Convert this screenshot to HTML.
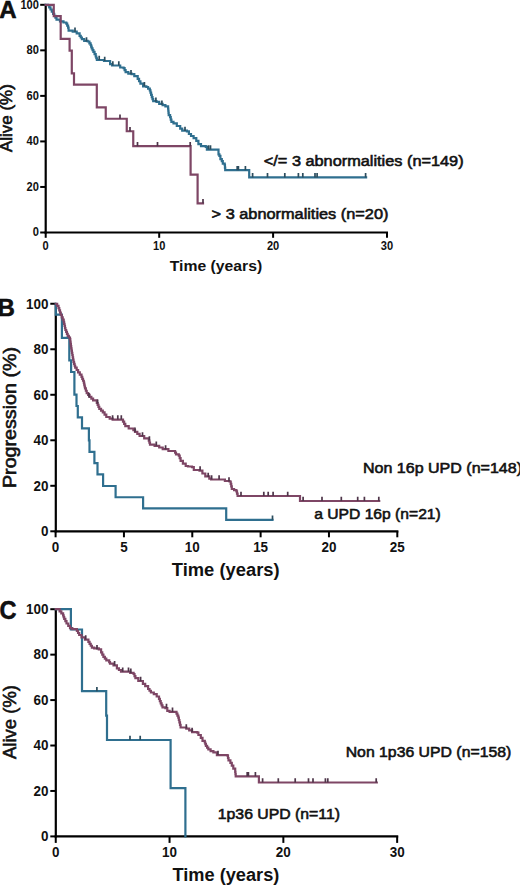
<!DOCTYPE html>
<html><head><meta charset="utf-8"><title>Kaplan-Meier curves</title>
<style>
html,body{margin:0;padding:0;background:#fff;}
body{width:520px;height:886px;overflow:hidden;font-family:"Liberation Sans",sans-serif;}
svg{display:block;}
</style></head><body>
<svg width="520" height="886" viewBox="0 0 520 886">
<g font-family="Liberation Sans, sans-serif" font-weight="bold" fill="#111">
<text x="-0.80" y="18.00" font-size="24.00" text-anchor="start" stroke="#000" stroke-width="0.5">A</text>
<path d="M45.70 233.60 V4.80" stroke="#000" stroke-width="2.2"/>
<path d="M44.60 232.50 H388.00" stroke="#000" stroke-width="2.2"/>
<path d="M40.20 232.50 H45.70" stroke="#000" stroke-width="2"/>
<path d="M40.20 186.96 H45.70" stroke="#000" stroke-width="2"/>
<path d="M40.20 141.42 H45.70" stroke="#000" stroke-width="2"/>
<path d="M40.20 95.88 H45.70" stroke="#000" stroke-width="2"/>
<path d="M40.20 50.34 H45.70" stroke="#000" stroke-width="2"/>
<path d="M40.20 4.80 H45.70" stroke="#000" stroke-width="2"/>
<path d="M45.70 232.50 V237.80" stroke="#000" stroke-width="2"/>
<path d="M159.20 232.50 V237.80" stroke="#000" stroke-width="2"/>
<path d="M273.10 232.50 V237.80" stroke="#000" stroke-width="2"/>
<path d="M387.00 232.50 V237.80" stroke="#000" stroke-width="2"/>
<text x="38.90" y="236.47" font-size="12.20" text-anchor="end" textLength="6.17" lengthAdjust="spacingAndGlyphs">0</text>
<text x="38.90" y="190.93" font-size="12.20" text-anchor="end" textLength="12.34" lengthAdjust="spacingAndGlyphs">20</text>
<text x="38.90" y="145.39" font-size="12.20" text-anchor="end" textLength="12.34" lengthAdjust="spacingAndGlyphs">40</text>
<text x="38.90" y="99.85" font-size="12.20" text-anchor="end" textLength="12.34" lengthAdjust="spacingAndGlyphs">60</text>
<text x="38.90" y="54.31" font-size="12.20" text-anchor="end" textLength="12.34" lengthAdjust="spacingAndGlyphs">80</text>
<text x="38.90" y="8.77" font-size="12.20" text-anchor="end" textLength="18.51" lengthAdjust="spacingAndGlyphs">100</text>
<text x="45.70" y="250.00" font-size="12.20" text-anchor="middle" textLength="6.17" lengthAdjust="spacingAndGlyphs">0</text>
<text x="159.20" y="250.00" font-size="12.20" text-anchor="middle" textLength="12.34" lengthAdjust="spacingAndGlyphs">10</text>
<text x="273.10" y="250.00" font-size="12.20" text-anchor="middle" textLength="12.34" lengthAdjust="spacingAndGlyphs">20</text>
<text x="387.00" y="250.00" font-size="12.20" text-anchor="middle" textLength="12.34" lengthAdjust="spacingAndGlyphs">30</text>
<path d="M45.70 4.80 H47.90 V5.20 H49.20 V7.35 H50.50 V9.50 H51.80 V11.65 H53.10 V13.80 H54.23 V15.73 H55.37 V17.67 H56.50 V19.60 H60.00 V21.30 H63.50 V22.50 H66.30 V23.60 H67.20 V25.65 H68.10 V27.70 H68.60 V30.60 H72.70 V31.70 H76.70 V33.40 H79.60 V35.80 H80.75 V37.50 H81.90 V39.20 H84.20 V40.90 H87.70 V41.50 H89.40 V43.30 H90.60 V45.00 H91.15 V46.70 H91.70 V48.40 H92.55 V50.15 H93.40 V51.90 H94.55 V54.20 H95.70 V56.50 H96.30 V58.25 H96.90 V60.00 H100.40 H104.00 V61.00 H110.10 V64.10 H112.10 V65.50 H118.80 H120.20 V67.50 H123.60 V68.20 H124.60 V70.20 H125.60 V72.20 H128.30 V73.60 H131.60 V74.20 H134.30 V76.20 H137.70 V78.90 H139.05 V81.25 H140.40 V83.60 H143.10 V86.30 H146.40 V87.00 H148.10 V88.70 H149.80 V90.40 H150.47 V92.63 H151.13 V94.87 H151.80 V97.10 H152.50 V99.10 H153.20 V101.10 H156.50 V101.80 H159.20 V103.80 H162.60 V105.20 H165.40 V106.40 H168.10 V108.50 H168.30 V110.73 H168.50 V112.97 H168.70 V115.20 H170.10 V117.20 H170.75 V119.55 H171.40 V121.90 H173.50 V123.30 H176.80 V126.00 H180.20 V128.60 H182.20 V130.70 H186.90 V131.30 H188.90 V134.00 H191.00 V136.00 H193.60 V138.10 H196.30 V140.80 H198.40 V144.10 H201.00 V146.10 H205.80 V146.80 H206.90 V149.60 H218.50 V154.40 H219.40 V155.90 H220.40 V159.20 H221.80 V161.20 H222.80 V163.60 H224.70 V165.00 H224.95 V167.60 H225.20 V170.20 H249.20 V177.40 H366.10" stroke="#2f6f8f" stroke-width="2.2" fill="none" stroke-linejoin="miter" stroke-linecap="square"/>
<path d="M45.70 4.80 L53.75 4.80 L53.75 16.20 L60.70 16.20 L60.70 38.80 L69.60 38.80 L69.60 50.60 L71.80 50.60 L71.80 73.30 L74.00 73.30 L74.00 84.70 L96.80 84.70 L96.80 107.30 L105.75 107.30 L105.75 118.75 L126.75 118.75 L126.75 131.25 L133.25 131.25 L133.25 146.20 L190.60 146.20 L190.60 174.70 L197.60 174.70 L197.60 203.35 L203.00 203.35" stroke="#7e4665" stroke-width="2.2" fill="none" stroke-linejoin="miter" stroke-linecap="square"/>
<path d="M75.00 31.70 V27.40 M86.50 41.50 V37.20 M99.20 60.00 V55.70 M104.70 61.00 V56.70 M112.80 65.50 V61.20 M118.80 65.50 V61.20 M131.00 74.20 V69.90 M144.40 86.30 V82.00 M155.90 101.80 V97.50 M161.90 104.80 V100.50 M185.00 131.00 V126.70 M208.50 149.60 V145.30 M210.50 149.60 V145.30 M237.20 170.20 V165.90 M238.40 170.20 V165.90 M245.40 170.20 V165.90 M252.60 177.40 V173.10 M267.50 177.40 V173.10 M284.80 177.40 V173.10 M298.40 177.40 V173.10 M302.80 177.40 V173.10 M315.00 177.40 V173.10 M317.10 177.40 V173.10 M365.60 177.40 V173.10 " stroke="#2c4d5e" stroke-width="1.7" fill="none"/>
<path d="M120.00 118.75 V114.45 M130.00 131.25 V126.95 M137.50 146.20 V141.90 M157.50 146.20 V141.90 M190.20 146.20 V141.90 M203.00 203.35 V199.05 " stroke="#4e3549" stroke-width="1.7" fill="none"/>
<text x="-2.60" y="316.00" font-size="24.00" text-anchor="start" stroke="#000" stroke-width="0.5">B</text>
<path d="M55.80 532.40 V303.75" stroke="#000" stroke-width="2.2"/>
<path d="M54.70 531.30 H398.40" stroke="#000" stroke-width="2.2"/>
<path d="M50.30 531.30 H55.80" stroke="#000" stroke-width="2"/>
<path d="M50.30 485.79 H55.80" stroke="#000" stroke-width="2"/>
<path d="M50.30 440.28 H55.80" stroke="#000" stroke-width="2"/>
<path d="M50.30 394.77 H55.80" stroke="#000" stroke-width="2"/>
<path d="M50.30 349.26 H55.80" stroke="#000" stroke-width="2"/>
<path d="M50.30 303.75 H55.80" stroke="#000" stroke-width="2"/>
<path d="M55.60 531.30 V537.30" stroke="#000" stroke-width="2"/>
<path d="M123.94 531.30 V537.30" stroke="#000" stroke-width="2"/>
<path d="M192.28 531.30 V537.30" stroke="#000" stroke-width="2"/>
<path d="M260.62 531.30 V537.30" stroke="#000" stroke-width="2"/>
<path d="M328.96 531.30 V537.30" stroke="#000" stroke-width="2"/>
<path d="M397.30 531.30 V537.30" stroke="#000" stroke-width="2"/>
<text x="48.50" y="536.09" font-size="14.50" text-anchor="end" textLength="7.48" lengthAdjust="spacingAndGlyphs">0</text>
<text x="48.50" y="490.58" font-size="14.50" text-anchor="end" textLength="14.96" lengthAdjust="spacingAndGlyphs">20</text>
<text x="48.50" y="445.07" font-size="14.50" text-anchor="end" textLength="14.96" lengthAdjust="spacingAndGlyphs">40</text>
<text x="48.50" y="399.56" font-size="14.50" text-anchor="end" textLength="14.96" lengthAdjust="spacingAndGlyphs">60</text>
<text x="48.50" y="354.05" font-size="14.50" text-anchor="end" textLength="14.96" lengthAdjust="spacingAndGlyphs">80</text>
<text x="48.50" y="308.54" font-size="14.50" text-anchor="end" textLength="22.43" lengthAdjust="spacingAndGlyphs">100</text>
<text x="55.60" y="551.50" font-size="14.50" text-anchor="middle" textLength="7.48" lengthAdjust="spacingAndGlyphs">0</text>
<text x="123.94" y="551.50" font-size="14.50" text-anchor="middle" textLength="7.48" lengthAdjust="spacingAndGlyphs">5</text>
<text x="192.28" y="551.50" font-size="14.50" text-anchor="middle" textLength="14.96" lengthAdjust="spacingAndGlyphs">10</text>
<text x="260.62" y="551.50" font-size="14.50" text-anchor="middle" textLength="14.96" lengthAdjust="spacingAndGlyphs">15</text>
<text x="328.96" y="551.50" font-size="14.50" text-anchor="middle" textLength="14.96" lengthAdjust="spacingAndGlyphs">20</text>
<text x="397.30" y="551.50" font-size="14.50" text-anchor="middle" textLength="14.96" lengthAdjust="spacingAndGlyphs">25</text>
<path d="M55.80 303.75 L55.80 314.60 L61.90 314.60 L61.90 337.80 L69.30 337.80 L69.30 360.40 L71.10 360.40 L71.10 372.00 L74.40 372.00 L74.40 394.60 L76.50 394.60 L76.50 406.00 L77.80 406.00 L77.80 417.30 L82.00 417.30 L82.00 428.40 L88.90 428.40 L88.90 440.40 L89.50 440.40 L89.50 451.90 L94.40 451.90 L94.40 463.10 L97.50 463.10 L97.50 474.40 L103.10 474.40 L103.10 486.00 L115.60 486.00 L115.60 497.25 L143.10 497.25 L143.10 508.30 L226.20 508.30 L226.20 519.80 L272.50 519.80" stroke="#2f6f8f" stroke-width="2.2" fill="none" stroke-linejoin="miter" stroke-linecap="square"/>
<path d="M55.80 303.75 H57.15 V305.93 H58.50 V308.10 H59.27 V310.40 H60.03 V312.70 H60.80 V315.00 H61.77 V317.30 H62.73 V319.60 H63.70 V321.90 H64.12 V323.92 H64.55 V325.95 H64.98 V327.98 H65.40 V330.00 H66.17 V331.93 H66.93 V333.87 H67.70 V335.80 H68.85 V337.50 H70.00 V339.20 H70.30 V341.50 H70.60 V343.80 H70.90 V346.10 H71.20 V348.40 H71.57 V350.60 H71.93 V352.80 H72.30 V355.00 H72.70 V357.30 H73.10 V359.60 H73.50 V361.90 H74.07 V363.83 H74.63 V365.77 H75.20 V367.70 H76.65 V370.00 H78.10 V372.30 H79.80 V374.60 H81.50 V376.90 H82.27 V378.83 H83.03 V380.77 H83.80 V382.70 H84.20 V384.60 H84.60 V386.50 H85.00 V388.40 H85.85 V390.75 H86.70 V393.10 H88.15 V394.95 H89.60 V396.80 H91.35 V398.60 H93.10 V400.40 H96.80 V403.00 H97.63 V404.97 H98.47 V406.93 H99.30 V408.90 H101.05 V410.65 H102.80 V412.40 H104.55 V414.70 H106.30 V417.00 H109.70 V418.70 H112.60 V419.60 H121.30 H123.00 V421.60 H124.15 V423.90 H125.30 V426.20 H128.70 V428.50 H133.40 V430.20 H135.00 V431.90 H137.30 V433.95 H139.60 V436.00 H144.20 V438.30 H148.80 V440.60 H149.40 V442.60 H150.00 V444.60 H154.60 V445.80 H159.20 V447.50 H162.70 V449.20 H168.40 V451.00 H174.20 H175.10 V452.70 H176.00 V454.40 H178.80 V455.60 H179.70 V458.20 H180.60 V460.80 H182.90 V463.60 H185.70 V466.00 H188.00 V466.50 H192.00 V467.10 H193.80 V470.00 H199.50 V470.60 H202.40 V473.50 H205.30 V476.30 H209.30 V478.60 H211.10 V479.50 H222.60 H224.90 V481.00 H229.50 V481.50 H230.70 V483.80 H231.25 V486.40 H231.80 V489.00 H234.10 V490.20 H236.40 V491.30 H237.00 V493.65 H237.60 V496.00 H300.00 V501.00 H379.20" stroke="#7e4665" stroke-width="2.2" fill="none" stroke-linejoin="miter" stroke-linecap="square"/>
<path d="M272.50 519.80 V515.50 " stroke="#2c4d5e" stroke-width="1.7" fill="none"/>
<path d="M89.00 397.40 V393.10 M97.60 403.70 V399.40 M112.60 419.60 V415.30 M117.80 419.60 V415.30 M121.30 419.60 V415.30 M135.00 431.90 V427.60 M142.50 436.50 V432.20 M149.40 440.60 V436.30 M156.30 445.80 V441.50 M165.60 449.50 V445.20 M200.10 470.60 V466.30 M208.20 477.00 V472.70 M211.60 479.50 V475.20 M219.10 479.50 V475.20 M229.00 481.50 V477.20 M241.00 496.00 V491.70 M263.80 496.00 V491.70 M268.20 496.00 V491.70 M273.10 496.00 V491.70 M287.70 496.00 V491.70 M303.10 501.00 V496.70 M322.00 501.00 V496.70 M341.30 501.00 V496.70 M357.70 501.00 V496.70 M364.40 501.00 V496.70 M378.80 501.00 V496.70 " stroke="#4e3549" stroke-width="1.7" fill="none"/>
<text x="-0.60" y="618.60" font-size="25.00" text-anchor="start" textLength="17.00" lengthAdjust="spacingAndGlyphs" stroke="#000" stroke-width="0.5">C</text>
<path d="M55.80 837.50 V609.20" stroke="#000" stroke-width="2.2"/>
<path d="M54.70 836.40 H398.25" stroke="#000" stroke-width="2.2"/>
<path d="M50.30 836.40 H55.80" stroke="#000" stroke-width="2"/>
<path d="M50.30 790.96 H55.80" stroke="#000" stroke-width="2"/>
<path d="M50.30 745.52 H55.80" stroke="#000" stroke-width="2"/>
<path d="M50.30 700.08 H55.80" stroke="#000" stroke-width="2"/>
<path d="M50.30 654.64 H55.80" stroke="#000" stroke-width="2"/>
<path d="M50.30 609.20 H55.80" stroke="#000" stroke-width="2"/>
<path d="M55.75 836.40 V842.90" stroke="#000" stroke-width="2"/>
<path d="M169.55 836.40 V842.90" stroke="#000" stroke-width="2"/>
<path d="M283.35 836.40 V842.90" stroke="#000" stroke-width="2"/>
<path d="M397.15 836.40 V842.90" stroke="#000" stroke-width="2"/>
<text x="48.50" y="840.99" font-size="14.50" text-anchor="end" textLength="7.48" lengthAdjust="spacingAndGlyphs">0</text>
<text x="48.50" y="795.55" font-size="14.50" text-anchor="end" textLength="14.96" lengthAdjust="spacingAndGlyphs">20</text>
<text x="48.50" y="750.11" font-size="14.50" text-anchor="end" textLength="14.96" lengthAdjust="spacingAndGlyphs">40</text>
<text x="48.50" y="704.67" font-size="14.50" text-anchor="end" textLength="14.96" lengthAdjust="spacingAndGlyphs">60</text>
<text x="48.50" y="659.23" font-size="14.50" text-anchor="end" textLength="14.96" lengthAdjust="spacingAndGlyphs">80</text>
<text x="48.50" y="613.79" font-size="14.50" text-anchor="end" textLength="22.43" lengthAdjust="spacingAndGlyphs">100</text>
<text x="55.75" y="857.00" font-size="14.50" text-anchor="middle" textLength="7.48" lengthAdjust="spacingAndGlyphs">0</text>
<text x="169.55" y="857.00" font-size="14.50" text-anchor="middle" textLength="14.96" lengthAdjust="spacingAndGlyphs">10</text>
<text x="283.35" y="857.00" font-size="14.50" text-anchor="middle" textLength="14.96" lengthAdjust="spacingAndGlyphs">20</text>
<text x="397.15" y="857.00" font-size="14.50" text-anchor="middle" textLength="14.96" lengthAdjust="spacingAndGlyphs">30</text>
<path d="M55.80 609.20 L70.90 609.20 L70.90 629.50 L82.00 629.50 L82.00 691.20 L106.20 691.20 L106.20 715.60 L107.00 715.60 L107.00 740.00 L170.60 740.00 L170.60 788.10 L185.40 788.10 L185.40 836.40" stroke="#2f6f8f" stroke-width="2.2" fill="none" stroke-linejoin="miter" stroke-linecap="square"/>
<path d="M55.80 609.20 H59.60 V611.30 H61.35 V613.35 H63.10 V615.40 H63.65 V617.10 H64.20 V618.80 H65.35 V621.15 H66.50 V623.50 H68.25 V625.80 H70.00 V628.10 H72.30 V629.20 H76.90 V631.00 H78.05 V633.00 H79.20 V635.00 H81.50 V637.30 H85.00 V639.60 H88.40 V641.90 H89.57 V643.83 H90.73 V645.77 H91.90 V647.70 H94.20 V648.30 H98.80 V649.40 H101.10 V652.30 H102.25 V654.60 H103.40 V656.90 H104.85 V658.65 H106.30 V660.40 H109.20 V662.10 H110.00 V663.70 H113.50 V665.40 H116.90 V668.30 H118.95 V670.00 H121.00 V671.70 H127.30 H130.20 V672.90 H133.60 V674.00 H134.50 V676.05 H135.40 V678.10 H138.30 V681.00 H142.90 V683.80 H145.20 V686.10 H148.10 V689.00 H149.50 V690.75 H150.90 V692.50 H153.80 V694.20 H156.70 V696.50 H159.00 V698.80 H159.85 V701.10 H160.70 V703.40 H161.60 V705.35 H162.50 V707.30 H165.40 V708.10 H167.30 V710.80 H169.60 V711.90 H174.20 H176.50 V713.70 H177.40 V715.70 H178.30 V717.70 H178.85 V720.00 H179.40 V722.30 H180.00 V724.90 H180.60 V727.50 H183.50 H186.30 V728.60 H189.20 V730.40 H192.10 V732.10 H197.30 V732.70 H198.40 V735.00 H200.80 V737.90 H202.50 V740.80 H204.80 V742.50 H205.35 V744.20 H205.90 V745.90 H207.10 V747.65 H208.30 V749.40 H210.60 V751.10 H213.40 V752.30 H216.90 V755.10 H227.50 V755.60 H228.00 V758.00 H228.50 V760.40 H230.40 V762.80 H231.80 V765.70 H233.30 V768.60 H235.20 V771.90 H235.45 V774.10 H235.70 V776.30 H258.90 V782.50 H376.80" stroke="#7e4665" stroke-width="2.2" fill="none" stroke-linejoin="miter" stroke-linecap="square"/>
<path d="M96.90 691.20 V686.90 M130.00 740.00 V735.70 M140.20 740.00 V735.70 " stroke="#2c4d5e" stroke-width="1.7" fill="none"/>
<path d="M85.70 639.60 V635.30 M97.00 649.40 V645.10 M114.60 665.40 V661.10 M122.70 671.70 V667.40 M128.50 671.70 V667.40 M130.80 672.90 V668.60 M140.60 681.00 V676.70 M166.50 708.10 V703.80 M172.50 711.90 V707.60 M186.30 728.60 V724.30 M192.10 732.10 V727.80 M218.00 755.10 V750.80 M247.20 776.30 V772.00 M248.40 776.30 V772.00 M255.40 776.30 V772.00 M262.60 782.50 V778.20 M278.30 782.50 V778.20 M295.20 782.50 V778.20 M308.50 782.50 V778.20 M313.00 782.50 V778.20 M325.40 782.50 V778.20 M327.80 782.50 V778.20 M376.20 782.50 V778.20 " stroke="#4e3549" stroke-width="1.7" fill="none"/>
<text x="169.80" y="271.00" font-size="15.20" text-anchor="start" textLength="92.40" lengthAdjust="spacingAndGlyphs">Time (years)</text>
<g transform="translate(11.60,152.10) rotate(-90)"><text x="0.00" y="0.00" font-size="16.48" text-anchor="start" textLength="67.90" lengthAdjust="spacingAndGlyphs" font-weight="normal" stroke="#111" stroke-width="0.60">Alive (%)</text></g>
<text x="263.80" y="166.20" font-size="15.50" text-anchor="start" textLength="199.80" lengthAdjust="spacingAndGlyphs" font-weight="normal" stroke="#111" stroke-width="0.60">&lt;/= 3 abnormalities (n=149)</text>
<text x="211.60" y="218.60" font-size="15.50" text-anchor="start" textLength="176.80" lengthAdjust="spacingAndGlyphs" font-weight="normal" stroke="#111" stroke-width="0.60">&gt; 3 abnormalities (n=20)</text>
<text x="171.80" y="576.10" font-size="17.60" text-anchor="start" textLength="107.80" lengthAdjust="spacingAndGlyphs">Time (years)</text>
<g transform="translate(16.00,488.00) rotate(-90)"><text x="0.00" y="0.00" font-size="17.82" text-anchor="start" textLength="141.00" lengthAdjust="spacingAndGlyphs" font-weight="normal" stroke="#111" stroke-width="0.60">Progression (%)</text></g>
<text x="363.00" y="473.40" font-size="15.50" text-anchor="start" textLength="159.00" lengthAdjust="spacingAndGlyphs" font-weight="normal" stroke="#111" stroke-width="0.60">Non 16p UPD (n=148)</text>
<text x="314.20" y="518.60" font-size="15.50" text-anchor="start" textLength="126.60" lengthAdjust="spacingAndGlyphs" font-weight="normal" stroke="#111" stroke-width="0.60">a UPD 16p (n=21)</text>
<text x="172.40" y="881.10" font-size="17.60" text-anchor="start" textLength="107.00" lengthAdjust="spacingAndGlyphs">Time (years)</text>
<g transform="translate(16.00,759.00) rotate(-90)"><text x="0.00" y="0.00" font-size="17.82" text-anchor="start" textLength="74.00" lengthAdjust="spacingAndGlyphs" font-weight="normal" stroke="#111" stroke-width="0.60">Alive (%)</text></g>
<text x="345.70" y="756.50" font-size="15.50" text-anchor="start" textLength="165.60" lengthAdjust="spacingAndGlyphs" font-weight="normal" stroke="#111" stroke-width="0.60">Non 1p36 UPD (n=158)</text>
<text x="217.80" y="818.50" font-size="15.50" text-anchor="start" textLength="122.20" lengthAdjust="spacingAndGlyphs" font-weight="normal" stroke="#111" stroke-width="0.60">1p36 UPD (n=11)</text>
</g></svg>
</body></html>
